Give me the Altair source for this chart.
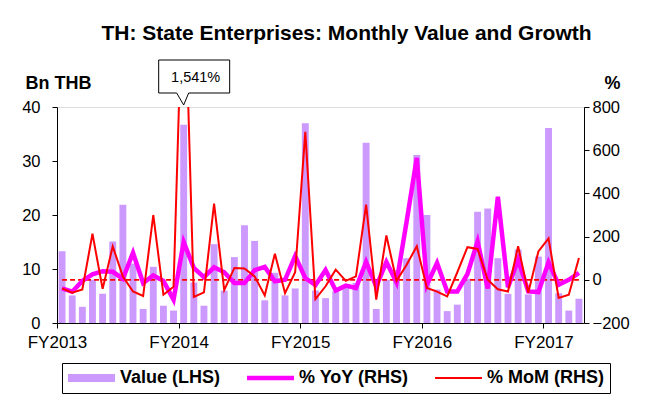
import altair as alt
import pandas as pd

# ---------------- data ----------------
months = (["2012-10", "2012-11", "2012-12"]
          + [f"{y}-{m:02d}" for y in range(2013, 2017) for m in range(1, 13)]
          + ["2017-01"])
fy_labels = ["FY2013", "FY2014", "FY2015", "FY2016", "FY2017"]
fy_start = [0, 12, 24, 36, 48]

value = [13.3, 5.1, 3.0, 8.0, 5.4, 15.1, 21.9, 11.0, 2.6, 10.4, 3.2, 2.3,
         36.7, 7.5, 3.2, 14.6, 6.0, 12.2, 18.1, 15.2, 4.2, 9.3, 5.1, 6.4,
         37.0, 6.0, 4.6, 5.9, 6.5, 7.4, 33.4, 2.6, 8.0, 9.8, 12.0, 31.1,
         20.0, 6.2, 2.2, 3.4, 8.2, 20.6, 21.2, 12.0, 5.4, 13.6, 5.3, 12.3,
         36.1, 5.5, 2.3, 4.5]

yoy = [-40, -55, -5, 25, 40, 37, 5, 125, -15, 20, -5, -92,
       175, 55, 12, 58, 35, -15, -15, 45, 60, -7, 0, 110,
       8, -25, 45, -50, -27, -38, 83, -31, 83, -12, 270, 564,
       -23, 78, -54, -54, 27, 178, -40, 385, -35, 93, -54, -57,
       81, -23, 0, 32]

mom = [-40, -60, -45, 213, -42, 155, 15, -54, -75, 300, -69, -32,
       1541, -79, -58, 353, -48, 55, 52, 16, -72, 121, -62, 35,
       685, -89, -30, 47, -5, 16, 348, -92, 205, -5, 70, 155,
       -38, -55, -77, 35, 151, 143, 0, -44, -54, 155, -60, 131,
       192, -84, -69, 101]

series = ["Value (LHS)", "% YoY (RHS)", "% MoM (RHS)"]
colors = ["#CC99FF", "#FF00FF", "#FF0000"]

left_ticks = [0, 10, 20, 30, 40]
right_ticks = [-200, 0, 200, 400, 600, 800]

df = pd.DataFrame({"idx": list(range(len(months))), "month": months,
                   "value": value, "yoy": yoy, "mom": mom})

FONT = "Liberation Sans"
YTICK_FS = 16.5
XTICK_FS = 17
LEG_FS = 18

# ---------------- scales / axes ----------------
label_expr = " : ".join(f"datum.value == {i} ? '{l}'" for i, l in zip(fy_start, fy_labels)) + " : ''"

x_scale = alt.Scale(domain=[0, len(months)], nice=False, zero=False)
x_axis = alt.Axis(values=fy_start, labelExpr=label_expr, title=None, grid=False,
                  tickSize=5, tickColor="black", domainColor="black",
                  labelFont=FONT, labelFontSize=XTICK_FS, labelColor="black",
                  labelPadding=6, labelFlush=False, labelOverlap=False)

yl_scale = alt.Scale(domain=[0, 40], nice=False)
yr_scale = alt.Scale(domain=[-200, 800], nice=False)

common_y = dict(grid=False, tickSize=5, tickColor="black", domainColor="black",
                labelFont=FONT, labelFontSize=YTICK_FS, labelColor="black",
                titleFont=FONT, titleFontSize=18, titleFontWeight="bold",
                titleColor="black", titleAngle=0, titleAlign="left",
                titleBaseline="alphabetic", titleY=-19, labelOverlap=False)
left_axis = alt.Axis(values=left_ticks, orient="left", title="Bn THB",
                     titleX=-32, labelPadding=12, **common_y)
right_axis = alt.Axis(values=right_ticks, orient="right", title="%",
                      titleX=20, labelPadding=3, **common_y)

color_scale = alt.Scale(domain=series, range=colors)

# legend swatches: horizontal strokes (2px each) stacked to the wanted thickness
SW = 23.5  # half length of a swatch in px
SYM_OFF = SW - LEG_FS / 2


def swatch(offsets):
    return "".join(f"M{-SW},{o}H{SW}" for o in offsets)


swatches = [swatch([-3, -1.5, 0, 1.5, 3]), swatch([-1.25, 0, 1.25]), swatch([0])]


def pick(vals):
    expr = f"'{vals[-1]}'"
    for s, v in reversed(list(zip(series[:-1], vals[:-1]))):
        expr = f"datum.value === '{s}' ? '{v}' : ({expr})"
    return {"expr": expr}


legend = alt.Legend(
    title=None, orient="none", legendX=5, legendY=256, direction="horizontal",
    symbolType=pick(swatches), symbolSize=4, symbolStrokeWidth=2,
    symbolStrokeColor=pick(colors), symbolOffset=SYM_OFF,
    labelFont=FONT, labelFontSize=LEG_FS, labelFontWeight="bold", labelColor="black",
    labelOffset=2 * SW + 5 - LEG_FS - SYM_OFF, columnPadding=22, padding=6,
    strokeColor="black", fillColor="white", labelLimit=300)

color = alt.Color("series:N", scale=color_scale, legend=legend)

base = alt.Chart(df).transform_calculate(
    xc="datum.idx + 0.5", x0="datum.idx + 0.16", x1="datum.idx + 0.84")

bars = base.transform_calculate(series=f"'{series[0]}'").mark_bar().encode(
    x=alt.X("x0:Q", scale=x_scale, axis=x_axis), x2="x1:Q",
    y=alt.Y("value:Q", scale=yl_scale, axis=left_axis), y2=alt.datum(0),
    color=color)

zero = base.transform_calculate(zero="0").mark_line(
    color="#FF0000", strokeDash=[5, 3], strokeWidth=1.8).encode(
    x=alt.X("xc:Q", scale=x_scale, axis=x_axis),
    y=alt.Y("zero:Q", scale=yr_scale, axis=right_axis))

yoy_line = base.transform_calculate(series=f"'{series[1]}'").mark_line(
    strokeWidth=4.5, clip=True).encode(
    x=alt.X("xc:Q", scale=x_scale, axis=x_axis),
    y=alt.Y("yoy:Q", scale=yr_scale, axis=right_axis),
    color=color)

mom_line = base.transform_calculate(series=f"'{series[2]}'").mark_line(
    strokeWidth=2, clip=True).encode(
    x=alt.X("xc:Q", scale=x_scale, axis=x_axis),
    y=alt.Y("mom:Q", scale=yr_scale, axis=right_axis),
    color=color)

callout = base.transform_joinaggregate(mx="max(mom)").transform_filter(
    "datum.mom == datum.mx")
CALLOUT_PATH = "M-25,-45H46V-12H5L0,0L-7,-12H-25Z"
callout_box = callout.mark_point(
    shape=CALLOUT_PATH, size=4, filled=True, fill="white", stroke="black",
    strokeWidth=1, opacity=1).encode(
    x=alt.X("xc:Q", scale=x_scale, axis=x_axis), y=alt.value(-2))
callout_text = callout.transform_calculate(
    lbl="format(datum.mom, ',') + '%'").mark_text(
    font=FONT, fontSize=14.5, color="black", dx=12, baseline="middle").encode(
    x=alt.X("xc:Q", scale=x_scale, axis=x_axis), y=alt.value(-29),
    text="lbl:N")

right = alt.layer(zero, yoy_line, mom_line, callout_box, callout_text)

chart = alt.layer(bars, right).resolve_scale(y="independent").properties(
    width=527, height=216,
    autosize=alt.AutoSizeParams(type="none"),
    padding={"left": 49, "top": 99, "right": 54, "bottom": 72},
    title=alt.TitleParams("TH: State Enterprises: Monthly Value and Growth",
                          font=FONT, fontSize=21, fontWeight="bold",
                          color="black", anchor="middle", dx=26, dy=26, offset=23,
                          baseline="alphabetic"),
).configure_view(stroke=None).configure(font=FONT, background="white")

chart.save("out.html", embed_options={"renderer": "svg", "actions": False})
